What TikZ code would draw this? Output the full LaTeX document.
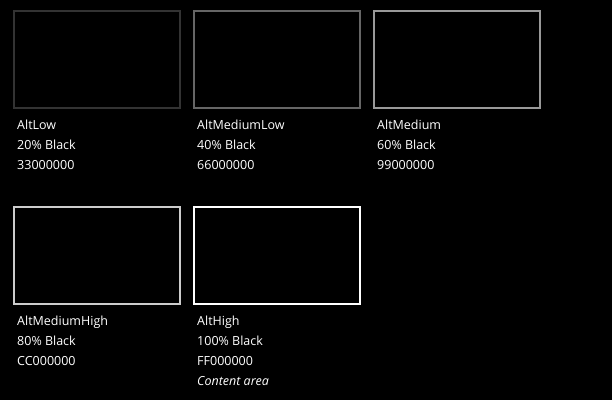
\documentclass[tikz,border=0pt]{standalone}
\usepackage{fontspec}
\setmainfont{Open Sans}
\definecolor{cA}{HTML}{333333}
\definecolor{cB}{HTML}{666666}
\definecolor{cC}{HTML}{999999}
\definecolor{cD}{HTML}{CCCCCC}
\definecolor{cE}{HTML}{FFFFFF}
\definecolor{txt}{HTML}{FFFFFF}
\begin{document}
\begin{tikzpicture}[x=1pt,y=-1pt,
  swatch/.style={draw, line width=2pt, fill=black, minimum width=166pt, minimum height=97pt, inner sep=0pt, outer sep=0pt},
  lbl/.style={anchor=base west, inner sep=0pt, text=txt, font=\fontsize{12.5pt}{14pt}\selectfont}]
\fill[black] (0,0) rectangle (612,400);
\useasboundingbox (0,0) rectangle (612,400);
\node[swatch, draw=cA] (r1) at (97,59.5) {};
\node[swatch, draw=cB] (r2) at (277,59.5) {};
\node[swatch, draw=cC] (r3) at (457,59.5) {};
\node[swatch, draw=cD] (r4) at (97,255.5) {};
\node[swatch, draw=cE] (r5) at (277,255.5) {};
\node[lbl] (a1) at (17,129.5) {AltLow};
\node[lbl] (a2) at (17,149.5) {20\% Black};
\node[lbl] (a3) at (17,169.5) {33000000};
\node[lbl] (b1) at (197,129.5) {AltMediumLow};
\node[lbl] (b2) at (197,149.5) {40\% Black};
\node[lbl] (b3) at (197,169.5) {66000000};
\node[lbl] (c1) at (377,129.5) {AltMedium};
\node[lbl] (c2) at (377,149.5) {60\% Black};
\node[lbl] (c3) at (377,169.5) {99000000};
\node[lbl] (d1) at (17,325.5) {AltMediumHigh};
\node[lbl] (d2) at (17,345.5) {80\% Black};
\node[lbl] (d3) at (17,365.5) {CC000000};
\node[lbl] (e1) at (197,325.5) {AltHigh};
\node[lbl] (e2) at (197,345.5) {100\% Black};
\node[lbl] (e3) at (197,365.5) {FF000000};
\node[lbl] (e4) at (197,385.5) {\itshape Content area};
\end{tikzpicture}
\end{document}
